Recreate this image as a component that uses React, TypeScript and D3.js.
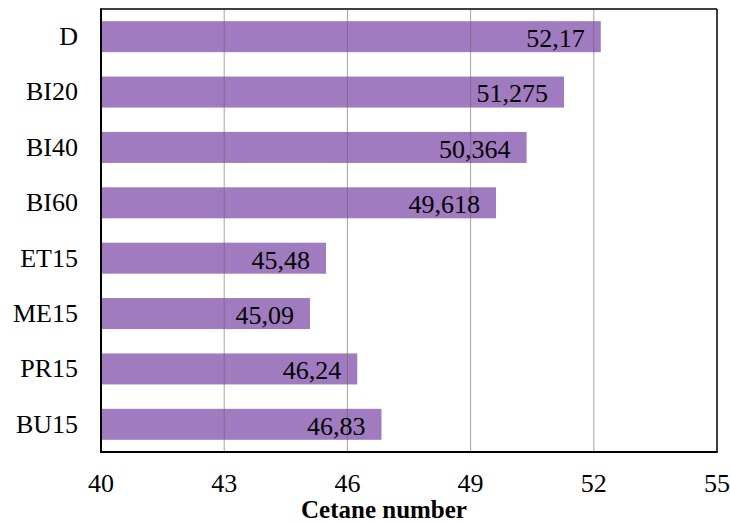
import React from "react";
import * as d3 from "d3";

const categories = ["D", "BI20", "BI40", "BI60", "ET15", "ME15", "PR15", "BU15"];
const values = [52.17, 51.275, 50.364, 49.618, 45.48, 45.09, 46.24, 46.83];
const valueLabels = ["52,17", "51,275", "50,364", "49,618", "45,48", "45,09", "46,24", "46,83"];
const xTicks = [40, 43, 46, 49, 52, 55];
const xTitle = "Cetane number";

export default function App() {
  const W = 730, H = 522;
  const left = 101, right = 717, top = 9, bottom = 452;
  const x = d3.scaleLinear().domain([40, 55]).range([left, right]);
  const y = d3.scaleBand<string>().domain(categories).range([top, bottom]).paddingInner(0.44).paddingOuter(0.22);
  const tf: React.CSSProperties = { fontFamily: "Liberation Serif, serif" };
  return (
    <svg width={W} height={H} style={{ position: "absolute", left: 0, top: 0, background: "#fff" }}>
      <rect x={0} y={0} width={W} height={H} fill="#fff" />
      {categories.map((c, i) => (
        <rect key={c} x={x(40)} y={y(c)!} width={x(values[i]) - x(40)} height={y.bandwidth()} fill="#a07bc0" />
      ))}
      {xTicks.slice(1, -1).map((t) => (
        <line key={t} x1={x(t)} x2={x(t)} y1={top} y2={bottom} stroke="#666" strokeOpacity={0.6} strokeWidth={1} />
      ))}
      {categories.map((c, i) => (
        <text key={c} style={tf} x={x(values[i]) - 16} y={y(c)! + y.bandwidth() / 2} dy="0.4em" textAnchor="end" fontSize={26} fill="#000">
          {valueLabels[i]}
        </text>
      ))}
      <line x1={left} x2={right} y1={top} y2={top} stroke="#000" strokeWidth={1.5} />
      <line x1={right} x2={right} y1={top} y2={bottom} stroke="#000" strokeWidth={1.5} />
      <line x1={left} x2={left} y1={top - 0.75} y2={bottom + 1} stroke="#000" strokeWidth={2} />
      <line x1={left - 1} x2={right + 0.75} y1={bottom} y2={bottom} stroke="#000" strokeWidth={2} />
      {categories.map((c) => (
        <text key={c} style={tf} x={78} y={y(c)! + y.bandwidth() / 2} dy="0.32em" textAnchor="end" fontSize={26} fill="#000">
          {c}
        </text>
      ))}
      {xTicks.map((t) => (
        <text key={t} style={tf} x={x(t)} y={492} textAnchor="middle" fontSize={26} fill="#000">
          {t}
        </text>
      ))}
      <text style={tf} x={384} y={518} textAnchor="middle" fontSize={25} fontWeight="bold" fill="#000">
        {xTitle}
      </text>
    </svg>
  );
}
